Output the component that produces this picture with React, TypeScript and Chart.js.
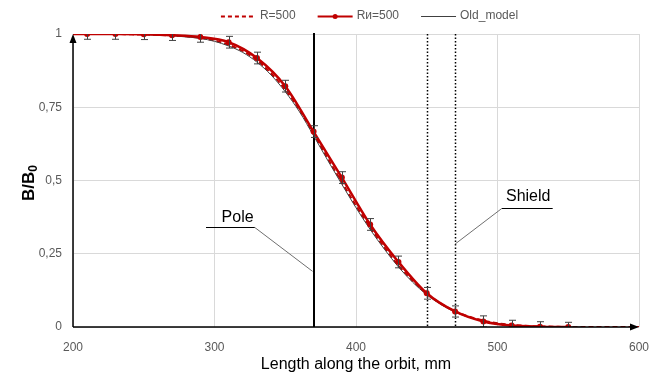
import React, { useEffect, useRef } from 'react';
import { Chart, registerables } from 'chart.js';

Chart.register(...registerables);

// ---------- data ----------
const X_TICKS = [200, 300, 400, 500, 600];
const Y_TICKS = [0, 0.25, 0.5, 0.75, 1];
const Y_TICK_LABELS = ['0', '0,25', '0,5', '0,75', '1'];

const LEGEND_LABELS = ['R=500', 'Rи=500', 'Old_model'];

// R=500 (calculated, dashed)
const X_R500 = [200, 210, 220, 230, 240, 250, 260, 270, 280, 290, 300, 310, 320, 330, 340, 350, 360, 370, 380, 390, 400, 410, 420, 430, 440, 450, 460, 470, 480, 490, 500, 510, 520, 530, 540, 550, 560, 570, 580, 590, 600];
const R500 = [1, 1, 1, 1, 0.999, 0.998, 0.997, 0.995, 0.992, 0.987, 0.978, 0.963, 0.942, 0.91, 0.866, 0.81, 0.742, 0.66, 0.576, 0.494, 0.414, 0.34, 0.272, 0.21, 0.158, 0.114, 0.08, 0.054, 0.035, 0.022, 0.013, 0.007, 0.004, 0.002, 0.001, 0, 0, 0, 0, 0, 0];

// Old model
const X_OLD = [200, 210, 220, 230, 240, 250, 260, 270, 280, 290, 300, 310, 320, 330, 340, 350, 360, 370, 380, 390, 400, 410, 420, 430, 440, 450, 460, 470, 480, 490, 500, 510, 520, 530, 540, 550, 560];
const OLD_MODEL = [1, 1, 1, 1, 0.999, 0.998, 0.996, 0.994, 0.99, 0.985, 0.975, 0.959, 0.937, 0.904, 0.86, 0.803, 0.735, 0.653, 0.569, 0.487, 0.407, 0.333, 0.266, 0.205, 0.153, 0.11, 0.077, 0.051, 0.033, 0.02, 0.012, 0.006, 0.003, 0.001, 0, 0, 0];

// Rи=500 (measured, with markers and error bars)
const X_RI500 = [200, 210, 230, 250, 270, 290, 310, 330, 350, 370, 390, 410, 430, 450, 470, 490, 510, 530, 550];
const RI500 = [1, 1, 1, 0.999, 0.996, 0.99, 0.972, 0.918, 0.822, 0.667, 0.51, 0.35, 0.222, 0.115, 0.053, 0.019, 0.005, 0.001, 0];
const RI500_ERR = [0, 0.018, 0.018, 0.018, 0.018, 0.018, 0.02, 0.02, 0.02, 0.02, 0.02, 0.02, 0.02, 0.02, 0.019, 0.019, 0.018, 0.017, 0.016];
const RI500_MARKER = [0, 1, 1, 1, 1, 1, 1, 1, 1, 1, 1, 1, 1, 1, 1, 1, 1, 1, 1];

const POLE_X = 370;
const SHIELD_X = [450, 470];

// ---------- styles ----------
const FONT = "'Liberation Sans', Arial, sans-serif";
const RED = '#c00000';
const GRAY_TEXT = '#595959';
const OLD_COLOR = '#404040';

const decorPlugin = {
  id: 'decor',
  beforeDatasetsDraw(chart: any) {
    const { ctx, chartArea: a, scales } = chart;
    const xs = scales.x;
    ctx.save();
    ctx.strokeStyle = '#000';
    ctx.lineWidth = 1.5;
    ctx.setLineDash([1.5, 2]);
    SHIELD_X.forEach((v) => {
      const px = Math.round(xs.getPixelForValue(v)) + 0.5;
      ctx.beginPath();
      ctx.moveTo(px, a.top);
      ctx.lineTo(px, a.bottom);
      ctx.stroke();
    });
    ctx.setLineDash([]);
    ctx.lineWidth = 2;
    const pp = Math.round(xs.getPixelForValue(POLE_X));
    ctx.beginPath();
    ctx.moveTo(pp, a.top - 1);
    ctx.lineTo(pp, a.bottom);
    ctx.stroke();
    ctx.restore();
  },
  afterDatasetsDraw(chart: any) {
    const { ctx, chartArea: a, scales } = chart;
    const xs = scales.x;
    const ys = scales.y;
    ctx.save();

    // error bars
    ctx.save();
    ctx.beginPath();
    ctx.rect(a.left, a.top, a.right - a.left, a.bottom - a.top);
    ctx.clip();
    ctx.strokeStyle = '#404040';
    ctx.lineWidth = 1;
    X_RI500.forEach((xv, i) => {
      const e = RI500_ERR[i];
      if (!e) return;
      const px = Math.round(xs.getPixelForValue(xv)) + 0.5;
      const t = ys.getPixelForValue(RI500[i] + e);
      const b = ys.getPixelForValue(RI500[i] - e);
      ctx.beginPath();
      ctx.moveTo(px, t);
      ctx.lineTo(px, b);
      ctx.moveTo(px - 3.5, t);
      ctx.lineTo(px + 3.5, t);
      ctx.moveTo(px - 3.5, b);
      ctx.lineTo(px + 3.5, b);
      ctx.stroke();
    });
    ctx.restore();

    // axes with arrows
    ctx.strokeStyle = '#000';
    ctx.fillStyle = '#000';
    ctx.lineWidth = 1.5;
    ctx.beginPath();
    ctx.moveTo(a.left, a.bottom);
    ctx.lineTo(a.left, a.top + 4);
    ctx.moveTo(a.left, a.bottom);
    ctx.lineTo(a.right - 4, a.bottom);
    ctx.stroke();
    ctx.beginPath();
    ctx.moveTo(a.left, a.top);
    ctx.lineTo(a.left - 3.5, a.top + 9);
    ctx.lineTo(a.left + 3.5, a.top + 9);
    ctx.closePath();
    ctx.fill();
    ctx.beginPath();
    ctx.moveTo(a.right, a.bottom);
    ctx.lineTo(a.right - 9, a.bottom - 3.5);
    ctx.lineTo(a.right - 9, a.bottom + 3.5);
    ctx.closePath();
    ctx.fill();

    // annotations
    const P = (x: number, y: number) => [xs.getPixelForValue(x), ys.getPixelForValue(y)];
    ctx.font = `16px ${FONT}`;
    ctx.fillStyle = '#000';
    ctx.textBaseline = 'middle';
    ctx.textAlign = 'left';
    // Pole
    let [tx, ty] = P(305, 0.372);
    ctx.fillText('Pole', tx, ty);
    let [u1x, u1y] = P(294, 0.341);
    let [u2x] = P(328.5, 0.341);
    ctx.lineWidth = 1;
    ctx.strokeStyle = '#000';
    ctx.beginPath();
    ctx.moveTo(u1x, Math.round(u1y) + 0.5);
    ctx.lineTo(u2x, Math.round(u1y) + 0.5);
    ctx.stroke();
    let [lx, ly] = P(POLE_X, 0.19);
    ctx.strokeStyle = '#6f6f6f';
    ctx.beginPath();
    ctx.moveTo(u2x, Math.round(u1y) + 0.5);
    ctx.lineTo(lx - 1, ly);
    ctx.stroke();
    // Shield
    [tx, ty] = P(506, 0.444);
    ctx.fillText('Shield', tx, ty);
    [u1x, u1y] = P(503, 0.406);
    [u2x] = P(539, 0.406);
    ctx.strokeStyle = '#000';
    ctx.beginPath();
    ctx.moveTo(u1x, Math.round(u1y) + 0.5);
    ctx.lineTo(u2x, Math.round(u1y) + 0.5);
    ctx.stroke();
    [lx, ly] = P(SHIELD_X[1], 0.283);
    ctx.strokeStyle = '#6f6f6f';
    ctx.beginPath();
    ctx.moveTo(u1x, Math.round(u1y) + 0.5);
    ctx.lineTo(lx, ly);
    ctx.stroke();

    // axis titles
    ctx.fillStyle = '#000';
    ctx.textAlign = 'center';
    ctx.font = `16px ${FONT}`;
    ctx.fillText('Length along the orbit, mm', (a.left + a.right) / 2, 365);

    ctx.save();
    ctx.translate(29, 183);
    ctx.rotate(-Math.PI / 2);
    ctx.textAlign = 'left';
    ctx.font = `bold 17px ${FONT}`;
    const w1 = ctx.measureText('B/B').width;
    ctx.font = `bold 12px ${FONT}`;
    const w2 = ctx.measureText('0').width;
    const sx = -(w1 + w2) / 2;
    ctx.font = `bold 17px ${FONT}`;
    ctx.fillText('B/B', sx, 0);
    ctx.font = `bold 12px ${FONT}`;
    ctx.fillText('0', sx + w1, 5);
    ctx.restore();

    // legend
    ctx.font = `12px ${FONT}`;
    ctx.textAlign = 'left';
    ctx.textBaseline = 'middle';
    const sampleW = 35;
    const gapText = 4;
    const gapItem = 22;
    const widths = LEGEND_LABELS.map((l) => sampleW + gapText + ctx.measureText(l).width);
    const total = widths.reduce((s, w) => s + w, 0) + gapItem * (widths.length - 1);
    let x0 = 369.5 - total / 2;
    const ly0 = 16;
    LEGEND_LABELS.forEach((label, i) => {
      ctx.save();
      if (i === 0) {
        ctx.strokeStyle = RED;
        ctx.lineWidth = 2;
        ctx.setLineDash([4, 3]);
      } else if (i === 1) {
        ctx.strokeStyle = RED;
        ctx.lineWidth = 2;
      } else {
        ctx.strokeStyle = OLD_COLOR;
        ctx.lineWidth = 1;
      }
      ctx.beginPath();
      ctx.moveTo(x0, ly0 + 0.5);
      ctx.lineTo(x0 + sampleW, ly0 + 0.5);
      ctx.stroke();
      if (i === 1) {
        ctx.fillStyle = RED;
        ctx.beginPath();
        ctx.arc(x0 + sampleW / 2, ly0 + 0.5, 2.5, 0, Math.PI * 2);
        ctx.fill();
      }
      ctx.restore();
      ctx.fillStyle = GRAY_TEXT;
      ctx.fillText(label, x0 + sampleW + gapText, ly0);
      x0 += widths[i] + gapItem;
    });

    ctx.restore();
  },
};

export default function App() {
  const ref = useRef<HTMLCanvasElement | null>(null);

  useEffect(() => {
    document.body.style.margin = '0';
    const canvas = ref.current;
    if (!canvas) return;
    Chart.defaults.font.family = FONT;

    const chart = new Chart(canvas, {
      type: 'line',
      data: {
        datasets: [
          {
            label: LEGEND_LABELS[1],
            data: X_RI500.map((x, i) => ({ x, y: RI500[i] })),
            borderColor: RED,
            borderWidth: 2.5,
            pointRadius: RI500_MARKER.map((m) => (m ? 3 : 0)),
            pointBackgroundColor: RED,
            pointBorderWidth: 0,
            cubicInterpolationMode: 'monotone',
            fill: false,
            order: 1,
          },
          {
            label: LEGEND_LABELS[2],
            data: X_OLD.map((x, i) => ({ x, y: OLD_MODEL[i] })),
            borderColor: OLD_COLOR,
            borderWidth: 1,
            pointRadius: 0,
            cubicInterpolationMode: 'monotone',
            fill: false,
            order: 2,
          },
          {
            label: LEGEND_LABELS[0],
            data: X_R500.map((x, i) => ({ x, y: R500[i] })),
            borderColor: RED,
            borderWidth: 2,
            borderDash: [5, 3],
            pointRadius: 0,
            cubicInterpolationMode: 'monotone',
            fill: false,
            order: 3,
          },
        ],
      } as any,
      options: {
        animation: false,
        responsive: false,
        devicePixelRatio: 1,
        layout: { padding: { top: 34, right: 13, left: 0, bottom: 0 } },
        plugins: {
          legend: { display: false },
          tooltip: { enabled: false },
        },
        scales: {
          x: {
            type: 'linear',
            min: X_TICKS[0],
            max: X_TICKS[X_TICKS.length - 1],
            afterBuildTicks: (s: any) => {
              s.ticks = X_TICKS.map((v) => ({ value: v }));
            },
            ticks: {
              color: GRAY_TEXT,
              font: { size: 12, family: FONT },
              padding: 13,
              maxRotation: 0,
              callback: (v: any) => String(v),
            },
            grid: { color: '#d9d9d9', drawTicks: false, lineWidth: 1 },
            border: { display: false },
            afterFit: (s: any) => {
              s.height = 49;
              s.paddingLeft = 0;
              s.paddingRight = 0;
            },
          },
          y: {
            type: 'linear',
            min: 0,
            max: 1,
            afterBuildTicks: (s: any) => {
              s.ticks = Y_TICKS.map((v) => ({ value: v }));
            },
            ticks: {
              color: GRAY_TEXT,
              font: { size: 12, family: FONT },
              padding: 11,
              callback: (v: any) => {
                const i = Y_TICKS.indexOf(Number(v));
                return i >= 0 ? Y_TICK_LABELS[i] : '';
              },
            },
            grid: { color: '#d9d9d9', drawTicks: false, lineWidth: 1 },
            border: { display: false },
            afterFit: (s: any) => {
              s.width = 73;
              s.paddingTop = 0;
              s.paddingBottom = 0;
            },
          },
        },
      } as any,
      plugins: [decorPlugin],
    });

    return () => chart.destroy();
  }, []);

  return (
    <div style={{ width: 652, height: 376 }}>
      <canvas ref={ref} width={652} height={376} style={{ display: 'block' }} />
    </div>
  );
}
